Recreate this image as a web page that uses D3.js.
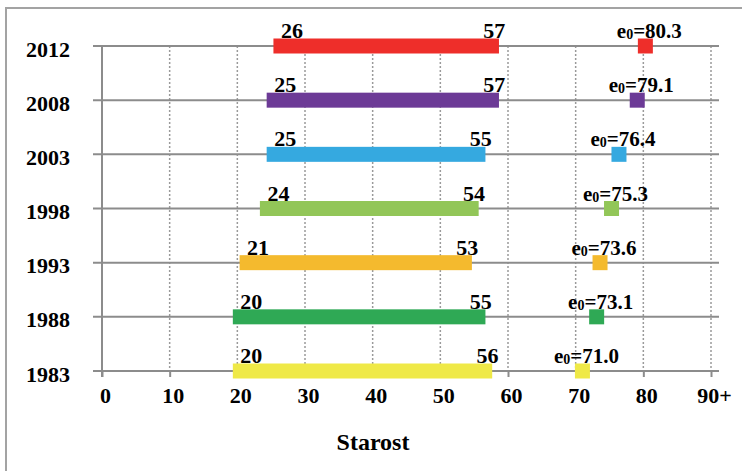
<!DOCTYPE html>
<html>
<head>
<meta charset="utf-8">
<script src="https://cdn.jsdelivr.net/npm/d3@7"></script>
<style>
  html, body { margin: 0; padding: 0; background: #fff; }
  svg { display: block; }
</style>
</head>
<body>
<svg id="chart" width="742" height="471"></svg>
<script>
// Years shown on the vertical axis, top to bottom
const years = ["2012", "2008", "2003", "1998", "1993", "1988", "1983"];
// First and last age of the span for each year
const startAge = [26, 25, 25, 24, 21, 20, 20];
const endAge = [57, 57, 55, 54, 53, 55, 56];
// Life expectancy at birth (e0)
const lifeExp = [80.3, 79.1, 76.4, 75.3, 73.6, 73.1, 71.0];
// Fill colour per year
const colors = ["#ee2e2a", "#6c3a96", "#35a9e0", "#92c658", "#f4ba2e", "#2fa955", "#efe947"];
// Age axis ticks and their labels
const xTicks = [0, 10, 20, 30, 40, 50, 60, 70, 80, 90];
const xTickLabels = ["0", "10", "20", "30", "40", "50", "60", "70", "80", "90+"];

const FONT = "'Liberation Serif', 'Times New Roman', serif";

const rows = years.map((y, i) => ({
  year: y, start: startAge[i], end: endAge[i], e0: lifeExp[i], color: colors[i]
}));

const svg = d3.select("#chart");

const x = d3.scaleLinear().domain([0, 90]).range([102, 711]);
const y = d3.scalePoint().domain(years).range([46, 371]);

const barH = 15;
const binPad = 4.5;
const markerW = 15;
const gridColor = "#8c8c8c";

function serif(sel, size) {
  return sel
    .style("font-family", FONT)
    .style("font-weight", "bold")
    .style("font-size", size + "px")
    .attr("fill", "#000");
}

// Frame around the chart area
svg.append("rect")
  .attr("x", 6).attr("y", 8)
  .attr("width", 770).attr("height", 490)
  .attr("fill", "none")
  .attr("stroke", "#a3a3a3")
  .attr("stroke-width", 2);

// Dotted vertical gridlines
svg.append("g")
  .selectAll("line")
  .data(xTicks.filter(t => t > 0))
  .join("line")
  .attr("x1", d => x(d)).attr("x2", d => x(d))
  .attr("y1", y(years[0])).attr("y2", y(years[years.length - 1]))
  .attr("stroke", "#9a9a9a")
  .attr("stroke-width", 1.5)
  .attr("stroke-dasharray", "2,2");

// Bottom age axis with tick marks
const xAxis = svg.append("g")
  .attr("transform", `translate(0,${y(years[years.length - 1])})`)
  .call(d3.axisBottom(x).tickValues(xTicks).tickSize(6)
    .tickFormat((d, i) => xTickLabels[i]));
xAxis.select(".domain").remove();
xAxis.selectAll(".tick line").attr("stroke", gridColor).attr("stroke-width", 2);
serif(xAxis.selectAll(".tick text"), 22)
  .attr("y", 32).attr("dy", 0).attr("dx", 3);

// Horizontal row lines (extend left as tick marks)
svg.append("g")
  .selectAll("line")
  .data(years)
  .join("line")
  .attr("x1", 93).attr("x2", 719)
  .attr("y1", d => y(d)).attr("y2", d => y(d))
  .attr("stroke", gridColor)
  .attr("stroke-width", 2);

// Vertical axis line
svg.append("line")
  .attr("x1", x(0)).attr("x2", x(0))
  .attr("y1", y(years[0])).attr("y2", y(years[years.length - 1]) + 6)
  .attr("stroke", gridColor)
  .attr("stroke-width", 2);

// Year labels
serif(svg.append("g")
  .selectAll("text")
  .data(years)
  .join("text"), 22)
  .attr("x", 70)
  .attr("y", d => y(d) + 10.5)
  .attr("text-anchor", "end")
  .text(d => d);

// Age span bars (each age occupies a one-year bin)
svg.append("g")
  .selectAll("rect")
  .data(rows)
  .join("rect")
  .attr("x", d => x(d.start) - binPad)
  .attr("width", d => x(d.end + 1) - x(d.start) + 2 * binPad)
  .attr("y", d => y(d.year) - barH / 2)
  .attr("height", barH)
  .attr("fill", d => d.color);

// Life expectancy markers
svg.append("g")
  .selectAll("rect")
  .data(rows)
  .join("rect")
  .attr("x", d => x(d.e0) - markerW / 2)
  .attr("width", markerW)
  .attr("y", d => y(d.year) - barH / 2)
  .attr("height", barH)
  .attr("fill", d => d.color);

// Start age labels
serif(svg.append("g")
  .selectAll("text")
  .data(rows)
  .join("text"), 22)
  .attr("x", d => x(d.start) + 3)
  .attr("y", d => y(d.year) - 8)
  .attr("text-anchor", "start")
  .text(d => d.start);

// End age labels
serif(svg.append("g")
  .selectAll("text")
  .data(rows)
  .join("text"), 22)
  .attr("x", d => x(d.end) + 6.5)
  .attr("y", d => y(d.year) - 8)
  .attr("text-anchor", "middle")
  .text(d => d.end);

// e0 labels with subscript zero
const fmt = d3.format(".1f");
const e0Labels = serif(svg.append("g")
  .selectAll("text")
  .data(rows)
  .join("text"), 21)
  .attr("x", d => x(d.e0) + 4)
  .attr("y", d => y(d.year) - 8)
  .attr("text-anchor", "middle");
e0Labels.append("tspan").text("e");
e0Labels.append("tspan").attr("dy", 1).style("font-size", "14px").text("0");
e0Labels.append("tspan").attr("dy", -1).text(d => "=" + fmt(d.e0));

// Axis title
serif(svg.append("text"), 24)
  .attr("x", 373)
  .attr("y", 450)
  .attr("text-anchor", "middle")
  .text("Starost");
</script>
</body>
</html>
